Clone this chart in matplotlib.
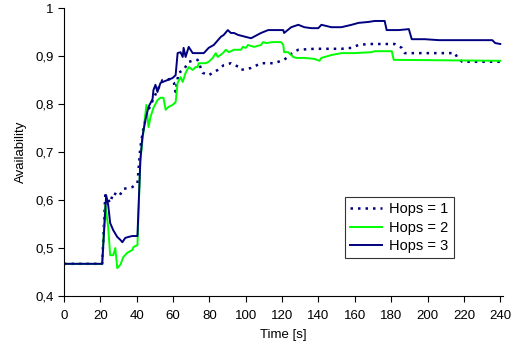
import matplotlib
matplotlib.use("Agg")
import matplotlib.pyplot as plt
from matplotlib.ticker import FixedLocator

plt.rcParams['font.family'] = ['Liberation Sans', 'DejaVu Sans']

# Hops = 1 (dotted)
t1 = [0, 21.0, 22.7, 25.4, 27.1, 30.4, 32.6, 37.6, 40.4, 42.0, 43.7, 44.8, 45.9,
      51.4, 54.2, 58.6, 60.5, 61.4, 63.0, 65.8, 68.6, 73.5, 76.3, 79.6, 84.6,
      87.9, 91.8, 95.7, 97.3, 102.9, 108.4, 115.6, 121.1, 126.1, 128.9, 137.7,
      147.1, 152.6, 158.2, 162.0, 167.6, 181.9, 185.8, 187.5, 215.1, 216.2,
      219.0, 240]
v1 = [0.467, 0.467, 0.610, 0.594, 0.615, 0.608, 0.623, 0.627, 0.635, 0.710, 0.750,
      0.767, 0.783, 0.829, 0.850, 0.852, 0.844, 0.825, 0.865, 0.871, 0.888, 0.892,
      0.865, 0.860, 0.871, 0.881, 0.885, 0.878, 0.871, 0.875, 0.885, 0.885, 0.892,
      0.908, 0.913, 0.915, 0.915, 0.915, 0.917, 0.923, 0.925, 0.925, 0.917, 0.906,
      0.906, 0.898, 0.888, 0.888]

# Hops = 2 (green)
t2 = [0, 21.0, 22.7, 24.3, 25.4, 27.1, 28.2, 29.3, 31.0, 32.6, 34.8, 37.6, 38.2,
      40.4, 42.0, 45.3, 46.5, 47.6, 49.2, 51.4, 53.1, 54.7, 55.9, 57.5, 59.7,
      61.4, 62.5, 64.1, 65.3, 66.9, 68.6, 70.8, 72.4, 73.5, 74.1, 78.0, 79.6,
      81.8, 83.5, 84.6, 87.4, 89.0, 90.7, 93.5, 97.3, 98.4, 100.1, 101.2, 104.5,
      108.4, 109.5, 111.2, 115.0, 119.4, 120.6, 121.1, 123.3, 126.1, 127.7, 132.2,
      137.7, 140.5, 141.6, 147.1, 152.6, 159.8, 169.2, 170.9, 180.3, 181.4, 240]
v2 = [0.467, 0.467, 0.590, 0.544, 0.485, 0.485, 0.500, 0.458, 0.465, 0.481, 0.490,
      0.496, 0.502, 0.506, 0.683, 0.798, 0.752, 0.773, 0.792, 0.808, 0.813, 0.813,
      0.788, 0.794, 0.798, 0.804, 0.844, 0.856, 0.846, 0.865, 0.877, 0.871, 0.877,
      0.877, 0.885, 0.885, 0.888, 0.896, 0.906, 0.898, 0.906, 0.913, 0.908, 0.913,
      0.913, 0.919, 0.917, 0.923, 0.919, 0.923, 0.929, 0.927, 0.929, 0.929, 0.923,
      0.908, 0.908, 0.898, 0.896, 0.896, 0.894, 0.890, 0.896, 0.902, 0.906, 0.906,
      0.908, 0.910, 0.910, 0.892, 0.890]

# Hops = 3 (navy solid)
t3 = [0, 21.0, 23.2, 24.3, 25.4, 27.1, 29.3, 31.0, 32.1, 33.7, 35.4, 37.6, 40.4,
      42.0, 43.1, 44.8, 46.5, 48.7, 49.2, 50.3, 51.4, 53.1, 57.0, 59.7, 61.4,
      62.5, 64.1, 65.3, 65.8, 66.9, 68.6, 70.8, 75.2, 76.9, 79.6, 82.4, 86.3,
      87.9, 90.1, 91.8, 93.5, 95.7, 102.9, 108.4, 112.3, 120.6, 121.1, 125.0,
      128.9, 132.2, 136.0, 139.9, 141.6, 147.1, 152.6, 158.2, 162.0, 167.6,
      170.9, 176.4, 177.5, 184.2, 189.7, 191.3, 198.5, 206.3, 235.6, 237.2, 240]
v3 = [0.467, 0.467, 0.610, 0.590, 0.552, 0.537, 0.523, 0.517, 0.512, 0.521, 0.523,
      0.525, 0.525, 0.683, 0.731, 0.767, 0.794, 0.810, 0.829, 0.840, 0.825, 0.844,
      0.850, 0.854, 0.860, 0.906, 0.908, 0.898, 0.917, 0.898, 0.919, 0.906, 0.906,
      0.906, 0.917, 0.923, 0.940, 0.944, 0.954, 0.948, 0.948, 0.944, 0.937, 0.948,
      0.954, 0.954, 0.948, 0.960, 0.965, 0.960, 0.958, 0.958, 0.965, 0.960, 0.960,
      0.965, 0.969, 0.971, 0.973, 0.973, 0.954, 0.954, 0.956, 0.935, 0.935, 0.933,
      0.933, 0.927, 0.925]

labels = ['Hops = 1', 'Hops = 2', 'Hops = 3']
xticks = list(range(0, 241, 20))
yticks = [0.4, 0.5, 0.6, 0.7, 0.8, 0.9, 1.0]
ytick_labels = ['0,4', '0,5', '0,6', '0,7', '0,8', '0,9', '1']

fig = plt.figure(figsize=(5.18, 3.52), dpi=100)
ax = fig.add_axes([64/518, 1-296/352, (503-64)/518, (296-8)/352])

ax.plot(t1, v1, color='#000080', lw=1.8, linestyle=(0, (1, 2)), label=labels[0])
ax.plot(t2, v2, color='#00FF00', lw=1.4, label=labels[1])
ax.plot(t3, v3, color='#000080', lw=1.4, label=labels[2])

ax.set_xlim(0, 241.5)
ax.set_ylim(0.4, 1.0)
ax.xaxis.set_major_locator(FixedLocator(xticks))
ax.set_yticks(yticks)
ax.set_yticklabels(ytick_labels)
ax.tick_params(direction='out', length=4, width=0.8, labelsize=9.5, colors='black')
ax.tick_params(axis='x', pad=6)
for s in ['top', 'right']:
    ax.spines[s].set_visible(False)
for s in ['left', 'bottom']:
    ax.spines[s].set_color('black')
    ax.spines[s].set_linewidth(0.8)

ax.set_xlabel('Time [s]', fontsize=9.5, labelpad=5)
ax.set_ylabel('Availability', fontsize=9.5, labelpad=6)

leg = ax.legend(loc='upper left', bbox_to_anchor=(0.64, 0.344), fontsize=10.5,
                frameon=True, fancybox=False, handlelength=2.2, borderpad=0.35,
                labelspacing=0.32, handletextpad=0.5, borderaxespad=0)
leg.get_frame().set_edgecolor('black')
leg.get_frame().set_linewidth(0.8)

fig.savefig('out.png', dpi=100)
